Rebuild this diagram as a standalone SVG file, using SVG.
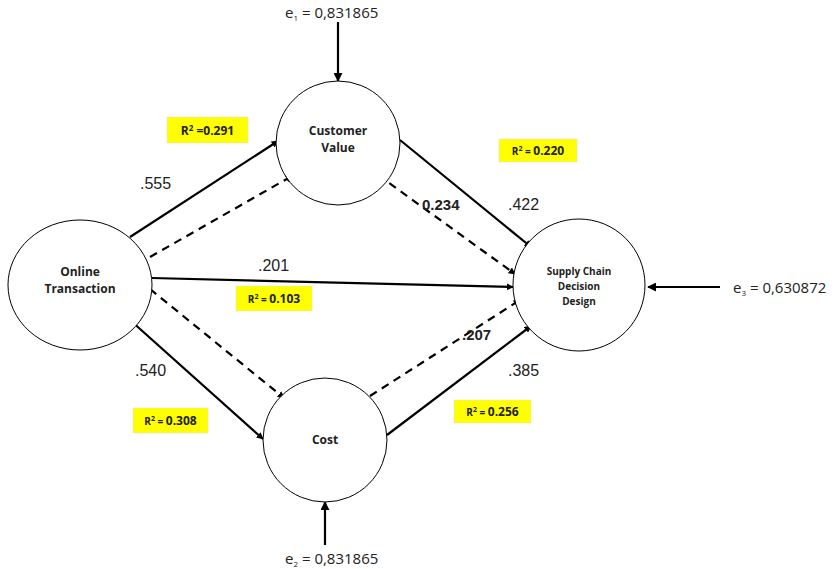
<svg xmlns="http://www.w3.org/2000/svg" width="834" height="569" viewBox="0 0 834 569">
<defs>
<marker id="ah" viewBox="0 0 10 10" refX="9" refY="5" markerWidth="7" markerHeight="7" markerUnits="userSpaceOnUse" orient="auto">
<path d="M0,0 L10,5 L0,10 z" fill="#000"/>
</marker>
<marker id="ah2" viewBox="0 0 10 10" refX="9" refY="5" markerWidth="9" markerHeight="9" markerUnits="userSpaceOnUse" orient="auto">
<path d="M0,0 L10,5 L0,10 z" fill="#000"/>
</marker>
</defs>
<style>
.node{fill:#fff;stroke:#000;stroke-width:1}
.nt{font-family:"Open Sans","Liberation Sans",sans-serif;font-weight:bold;font-size:12px;text-anchor:middle;fill:#222}
.solid{stroke:#000;stroke-width:2.2;fill:none;marker-end:url(#ah)}
.dash{stroke:#000;stroke-width:2.2;fill:none;stroke-dasharray:8,6;marker-end:url(#ah)}
.err{stroke:#000;stroke-width:2.2;fill:none;marker-end:url(#ah2)}
.coef{font-family:"Liberation Sans",Arial,sans-serif;font-size:16px;fill:#222}
.coefb{font-family:"Liberation Sans",Arial,sans-serif;font-size:15px;font-weight:bold;fill:#222}
.rbox{fill:#ffff00;stroke:#ddd;stroke-width:0.5}
.rt{font-family:"Open Sans","Liberation Sans",sans-serif;font-weight:bold;font-size:12px;text-anchor:middle;fill:#222}
.et{font-family:"Open Sans","Liberation Sans",sans-serif;font-size:15px;fill:#222}
</style>
<rect width="834" height="569" fill="#fff"/>
<g id="connectors">
<line class="solid" x1="130" y1="237" x2="278" y2="141"/>
<line class="dash" x1="150" y1="257" x2="292" y2="176"/>
<line class="solid" x1="400" y1="140" x2="531" y2="247"/>
<line class="dash" x1="378" y1="175" x2="515" y2="274"/>
<line class="solid" x1="152" y1="278" x2="513" y2="287"/>
<line class="dash" x1="150" y1="289" x2="284" y2="398"/>
<line class="solid" x1="130" y1="320" x2="263" y2="439"/>
<line class="dash" x1="370" y1="396" x2="520" y2="300"/>
<line class="solid" x1="387" y1="435" x2="531" y2="326"/>
<line class="err" x1="338" y1="22" x2="338" y2="81"/>
<line class="err" x1="325" y1="545" x2="325" y2="502"/>
<line class="err" x1="720" y1="287" x2="648" y2="287"/>
</g>
<g id="node-online-transaction">
<ellipse class="node" cx="80" cy="285" rx="72" ry="65"/>
<text class="nt" x="80" y="276">Online</text>
<text class="nt" x="80" y="293">Transaction</text>
</g>
<g id="node-customer-value">
<ellipse class="node" cx="338" cy="143" rx="62" ry="62"/>
<text class="nt" x="338" y="135">Customer</text>
<text class="nt" x="338" y="152">Value</text>
</g>
<g id="node-cost">
<ellipse class="node" cx="325" cy="440" rx="62" ry="62"/>
<text class="nt" x="325" y="444">Cost</text>
</g>
<g id="node-supply-chain">
<ellipse class="node" cx="579" cy="285" rx="66" ry="66"/>
<text class="nt" x="579" y="275" style="font-size:10px">Supply Chain</text>
<text class="nt" x="579" y="290" style="font-size:10px">Decision</text>
<text class="nt" x="579" y="305" style="font-size:10px">Design</text>
</g>
<g id="labels">
<text class="coef" x="140" y="189">.555</text>
<text class="coef" x="135" y="376">.540</text>
<text class="coef" x="258" y="271">.201</text>
<text class="coef" x="508" y="210">.422</text>
<text class="coef" x="508" y="376">.385</text>
<text class="coefb" x="422" y="210">0.234</text>
<text class="coefb" x="462" y="340">.207</text>
<rect class="rbox" x="167" y="117" width="81" height="26"/>
<text class="rt" x="207.5" y="135">R<tspan font-size="8" dy="-4">2</tspan><tspan dy="4"> =0.291</tspan></text>
<rect class="rbox" x="499" y="139" width="78" height="23"/>
<text class="rt" x="538" y="155"><tspan font-size="10">R</tspan><tspan font-size="7" dy="-4">2</tspan><tspan dy="4" font-size="10"> = </tspan>0.220</text>
<rect class="rbox" x="236" y="286" width="76" height="25"/>
<text class="rt" x="274" y="303"><tspan font-size="10">R</tspan><tspan font-size="7" dy="-4">2</tspan><tspan dy="4" font-size="10"> = </tspan>0.103</text>
<rect class="rbox" x="133" y="408" width="75" height="25"/>
<text class="rt" x="170.5" y="425"><tspan font-size="10">R</tspan><tspan font-size="7" dy="-4">2</tspan><tspan dy="4" font-size="10"> = </tspan>0.308</text>
<rect class="rbox" x="454" y="400" width="77" height="23"/>
<text class="rt" x="492.5" y="416"><tspan font-size="10">R</tspan><tspan font-size="7" dy="-4">2</tspan><tspan dy="4" font-size="10">  = </tspan>0.256</text>
<text class="et" x="285" y="18">e<tspan font-size="8" dy="3">1</tspan><tspan dy="-3"> = 0,831865</tspan></text>
<text class="et" x="285" y="564">e<tspan font-size="8" dy="3">2</tspan><tspan dy="-3"> = 0,831865</tspan></text>
<text class="et" x="733" y="293">e<tspan font-size="8" dy="3">3</tspan><tspan dy="-3"> = 0,630872</tspan></text>
</g>
</svg>
